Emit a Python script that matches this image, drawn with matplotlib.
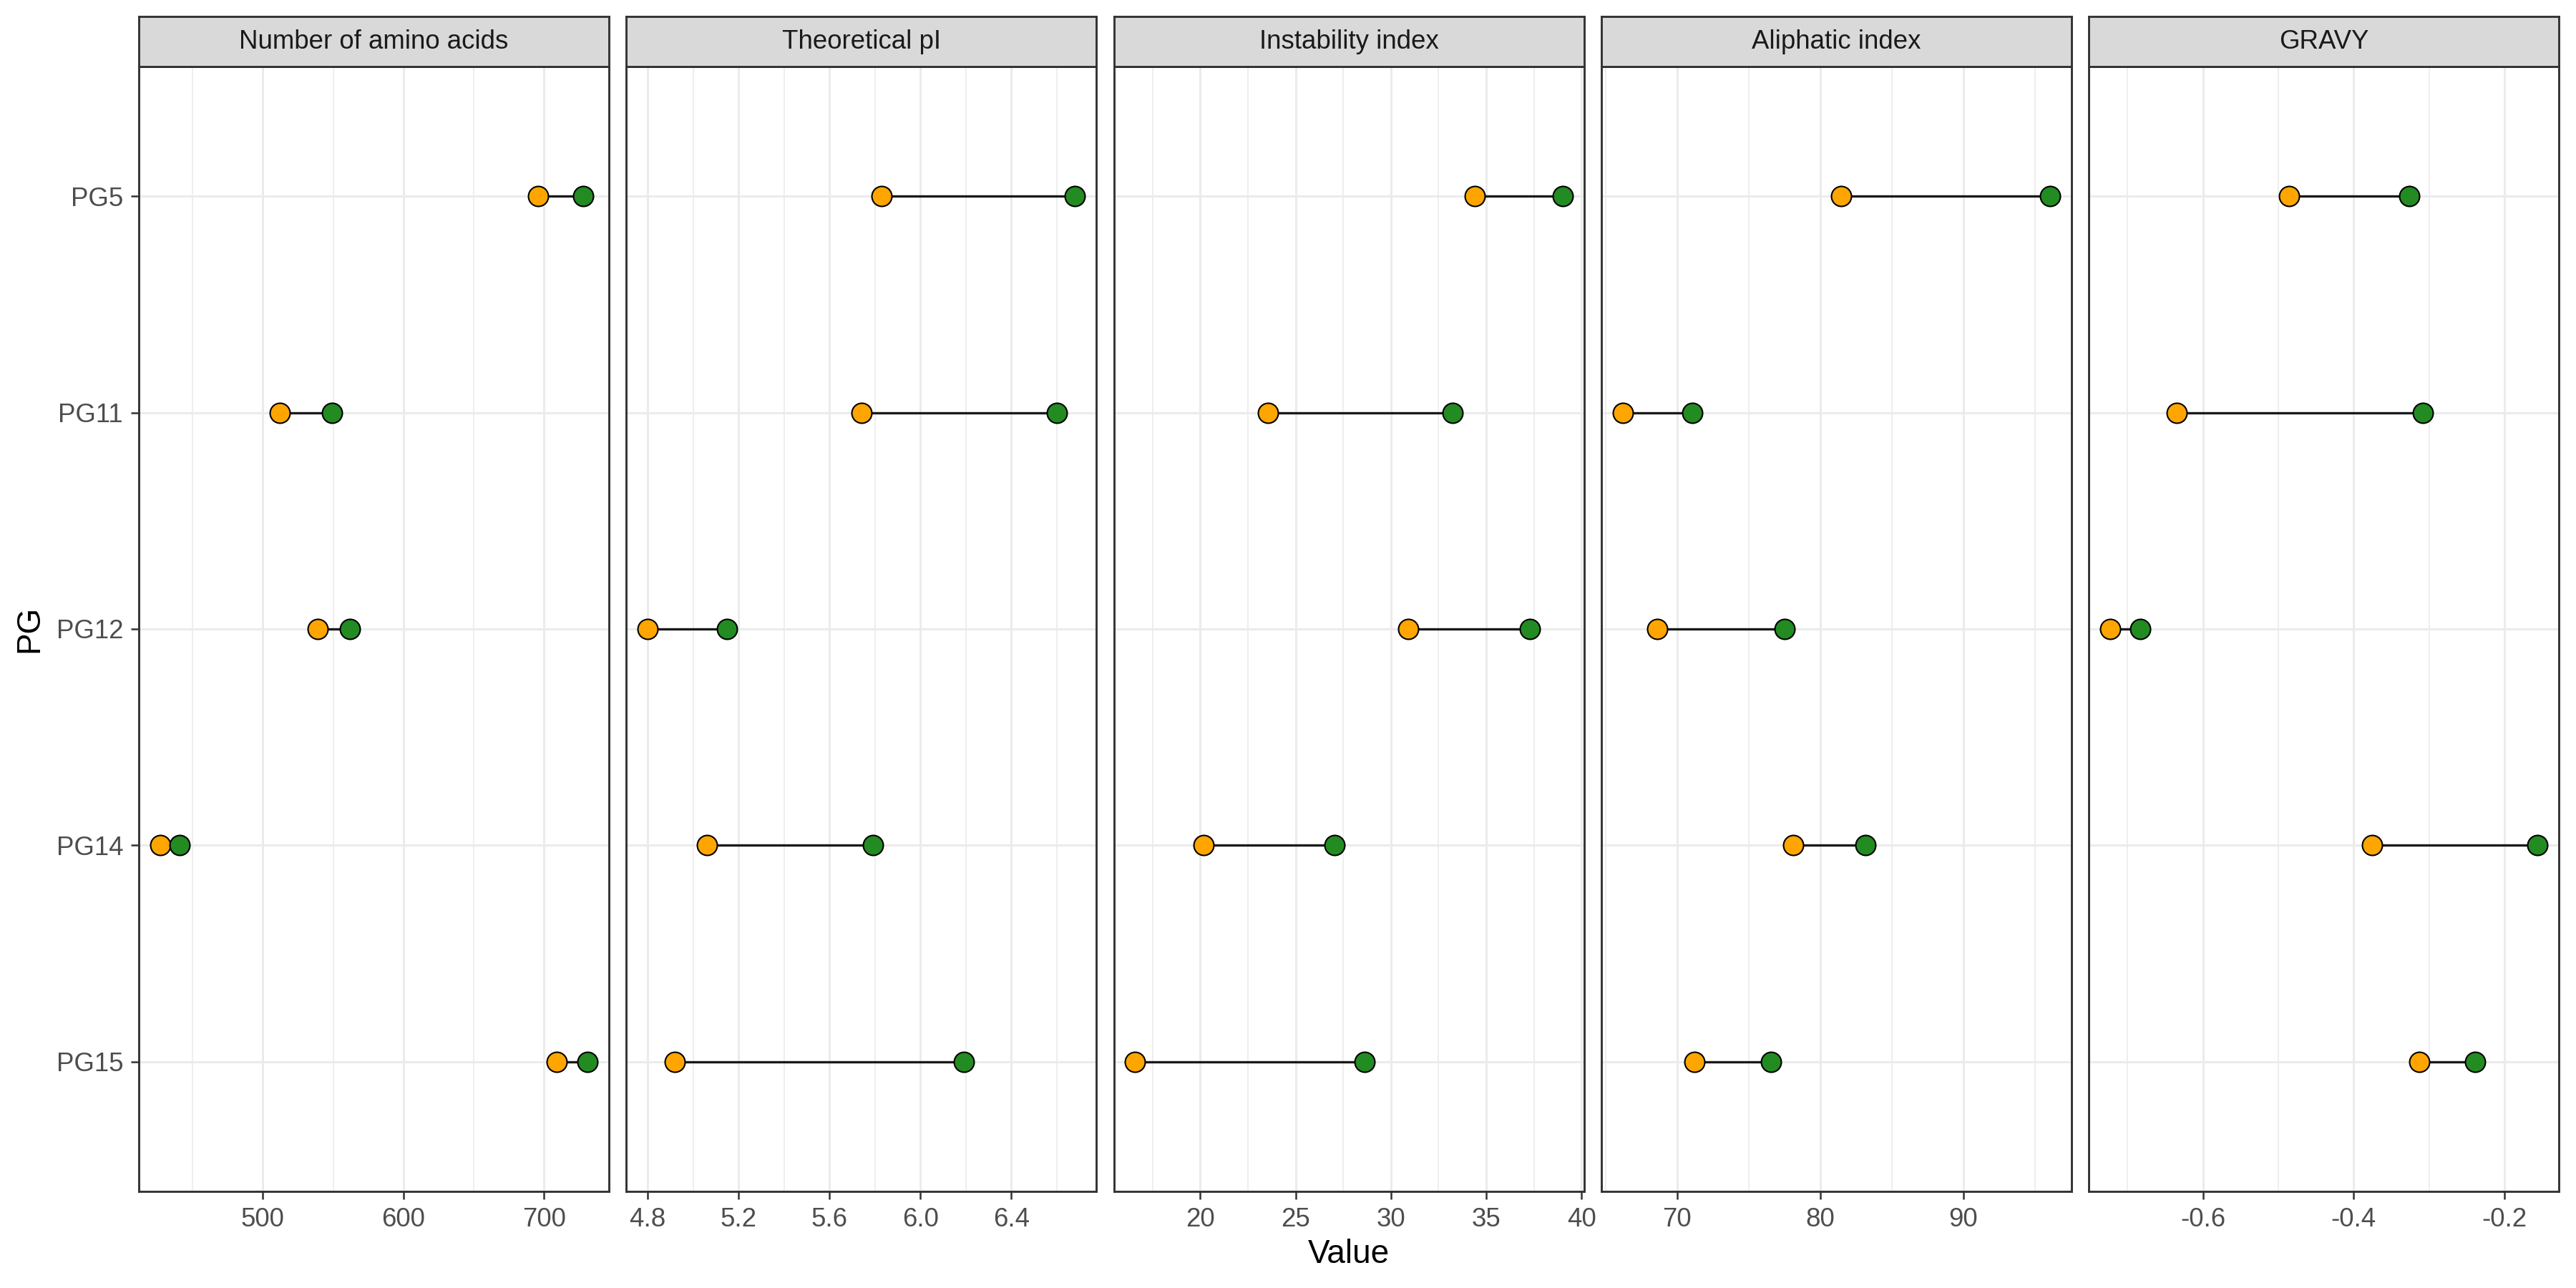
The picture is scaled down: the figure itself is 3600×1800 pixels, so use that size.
import matplotlib
matplotlib.use("Agg")
import matplotlib.pyplot as plt
from matplotlib.ticker import AutoMinorLocator

plt.rcParams['font.family'] = ['Liberation Sans', 'DejaVu Sans']
plt.rcParams['axes.unicode_minus'] = False

# protein groups, top to bottom
pg = ["PG5", "PG11", "PG12", "PG14", "PG15"]

panel_titles = ["Number of amino acids", "Theoretical pI", "Instability index",
                "Aliphatic index", "GRAVY"]

# orange (low) and green (high) values per panel
aa_low = [696, 512, 539, 427, 709]
aa_high = [728, 549, 562, 441, 731]
pi_low = [5.83, 5.74, 4.80, 5.06, 4.92]
pi_high = [6.68, 6.60, 5.15, 5.79, 6.19]
ii_low = [34.39, 23.56, 30.90, 20.19, 16.59]
ii_high = [39.00, 33.24, 37.28, 27.04, 28.62]
ai_low = [81.45, 66.20, 68.60, 78.11, 71.19]
ai_high = [96.07, 71.08, 77.51, 83.15, 76.57]
gravy_low = [-0.486, -0.635, -0.723, -0.376, -0.313]
gravy_high = [-0.326, -0.308, -0.683, -0.156, -0.239]

lows = [aa_low, pi_low, ii_low, ai_low, gravy_low]
highs = [aa_high, pi_high, ii_high, ai_high, gravy_high]

# x tick positions and labels per panel
ticks = [[500, 600, 700],
         [4.8, 5.2, 5.6, 6.0, 6.4],
         [20, 25, 30, 35, 40],
         [70, 80, 90],
         [-0.6, -0.4, -0.2]]
tick_labels = [["500", "600", "700"],
               ["4.8", "5.2", "5.6", "6.0", "6.4"],
               ["20", "25", "30", "35", "40"],
               ["70", "80", "90"],
               ["-0.6", "-0.4", "-0.2"]]

fig = plt.figure(figsize=(12, 6), dpi=300)

left0 = 194 / 3600
pw = 657 / 3600
step = 681.3 / 3600
bottom = 0.075
top = 1 - 93 / 1800
strip_top = 1 - 23 / 1800

ypos = list(range(len(pg)))

for i in range(5):
    x0 = left0 + i * step
    ax = fig.add_axes([x0, bottom, pw, top - bottom])
    lo = lows[i]
    hi = highs[i]

    ax.hlines(ypos, lo, hi, color='#1a1a1a', lw=0.8, zorder=2)
    ax.scatter(lo, ypos, s=45, c='orange', edgecolors='black', linewidths=0.5, zorder=3)
    ax.scatter(hi, ypos, s=45, c='forestgreen', edgecolors='black', linewidths=0.5, zorder=3)

    mn = min(lo)
    mx = max(hi)
    pad = 0.05 * (mx - mn)
    ax.set_xlim(mn - pad, mx + pad)
    ax.set_ylim(len(pg) - 0.4, -0.6)

    ax.set_xticks(ticks[i])
    ax.set_xticklabels(tick_labels[i])
    ax.xaxis.set_minor_locator(AutoMinorLocator(2))
    ax.set_yticks(ypos)

    ax.set_axisbelow(True)
    ax.grid(which='major', color='#EBEBEB', lw=0.72)
    ax.grid(which='minor', axis='x', color='#EBEBEB', lw=0.4)
    ax.tick_params(which='minor', length=0)
    ax.tick_params(which='major', length=2.75, width=0.6, color='#333333',
                   labelsize=8.8, labelcolor='#4D4D4D', pad=2.5)

    if i == 0:
        ax.set_yticklabels(pg)
    else:
        ax.tick_params(axis='y', length=0, labelleft=False)

    for sp in ax.spines.values():
        sp.set_color('#333333')
        sp.set_linewidth(0.7)

    # facet strip
    st = fig.add_axes([x0, top, pw, strip_top - top])
    st.set_facecolor('#D9D9D9')
    st.set_xticks([])
    st.set_yticks([])
    for sp in st.spines.values():
        sp.set_color('#333333')
        sp.set_linewidth(0.7)
    st.text(0.5, 0.5, panel_titles[i], ha='center', va='center',
            fontsize=8.8, color='#1A1A1A', transform=st.transAxes)

fig.text(left0 + (4 * step + pw) / 2, 0.026, "Value", ha='center', va='center',
         fontsize=11, color='black')
fig.text(0.0115, (bottom + top) / 2, "PG", ha='center', va='center',
         rotation=90, fontsize=11, color='black')

fig.savefig("out.png", dpi=300)
